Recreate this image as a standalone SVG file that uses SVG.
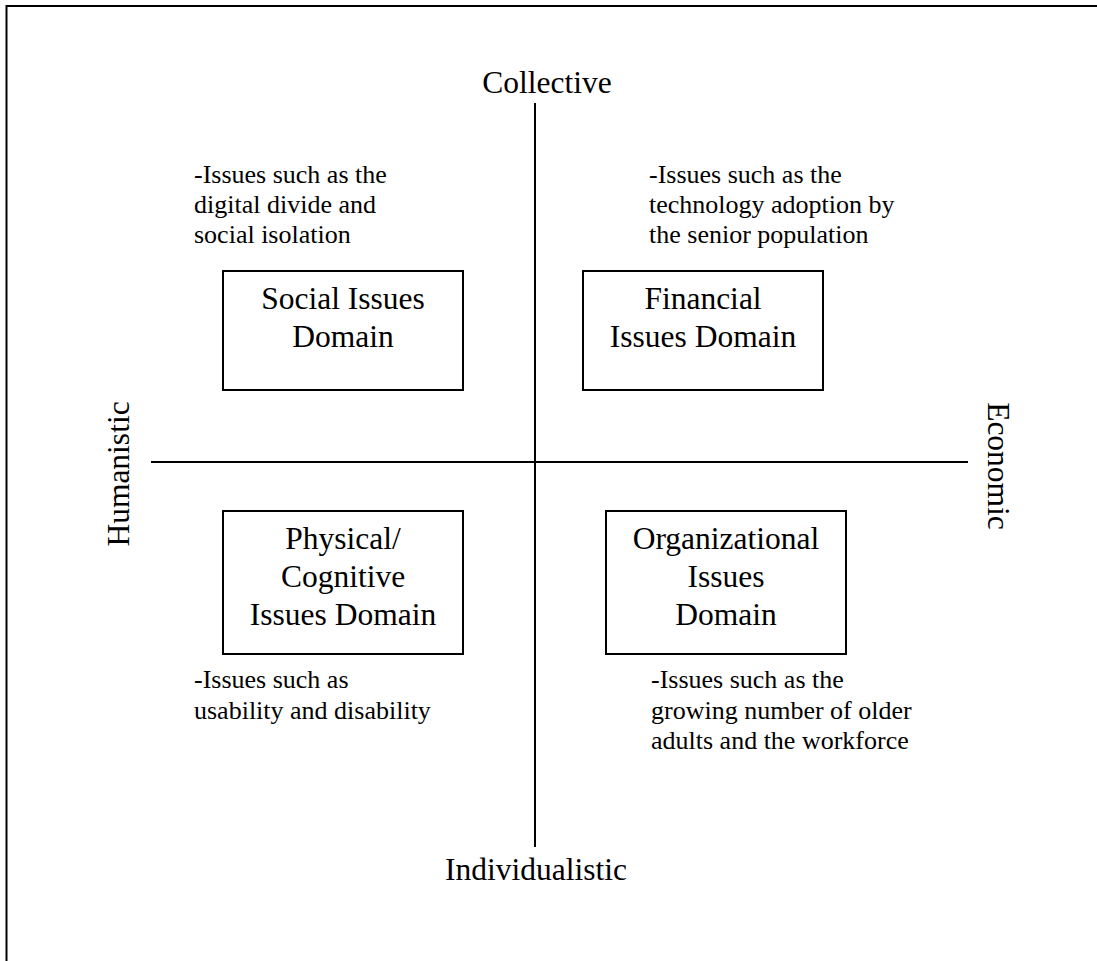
<svg xmlns="http://www.w3.org/2000/svg" width="1097" height="961" viewBox="0 0 1097 961">
<style>
.big{font-family:"Liberation Serif","Times New Roman",serif;font-size:31.5px;fill:#000;text-anchor:middle}
.small{font-family:"Liberation Serif","Times New Roman",serif;font-size:26px;fill:#000}
.box{fill:#fff;stroke:#000;stroke-width:2}
.line{stroke:#000;stroke-width:2;fill:none}
</style>
<rect width="1097" height="961" fill="#fff"/>
<g id="frame">
<path class="line" d="M6.5 961 V6 H1097"/>
</g>
<g id="connectors">
<line class="line" x1="535" y1="103" x2="535" y2="847"/>
<line class="line" x1="151" y1="462" x2="968" y2="462"/>
</g>
<g id="axis-labels">
<text class="big" x="547" y="93">Collective</text>
<text class="big" x="536" y="880">Individualistic</text>
<text class="big" transform="translate(129 474) rotate(-90)">Humanistic</text>
<text class="big" transform="translate(988 466) rotate(90)">Economic</text>
</g>
<g id="social">
<rect class="box" x="223" y="271" width="240" height="119"/>
<text class="big" x="343" y="309">Social Issues</text>
<text class="big" x="343" y="347">Domain</text>
</g>
<g id="financial">
<rect class="box" x="583" y="271" width="240" height="119"/>
<text class="big" x="703" y="309">Financial</text>
<text class="big" x="703" y="347">Issues Domain</text>
</g>
<g id="physical">
<rect class="box" x="223" y="511" width="240" height="143"/>
<text class="big" x="343" y="549">Physical/</text>
<text class="big" x="343" y="587">Cognitive</text>
<text class="big" x="343" y="625">Issues Domain</text>
</g>
<g id="organizational">
<rect class="box" x="606" y="511" width="240" height="143"/>
<text class="big" x="726" y="549">Organizational</text>
<text class="big" x="726" y="587">Issues</text>
<text class="big" x="726" y="625">Domain</text>
</g>
<g id="note-social">
<text class="small" x="194" y="183">-Issues such as the</text>
<text class="small" x="194" y="213">digital divide and</text>
<text class="small" x="194" y="243">social isolation</text>
</g>
<g id="note-financial">
<text class="small" x="649" y="183">-Issues such as the</text>
<text class="small" x="649" y="213">technology adoption by</text>
<text class="small" x="649" y="243">the senior population</text>
</g>
<g id="note-physical">
<text class="small" x="194" y="688">-Issues such as</text>
<text class="small" x="194" y="719">usability and disability</text>
</g>
<g id="note-organizational">
<text class="small" x="651" y="688">-Issues such as the</text>
<text class="small" x="651" y="719">growing number of older</text>
<text class="small" x="651" y="749">adults and the workforce</text>
</g>
</svg>
